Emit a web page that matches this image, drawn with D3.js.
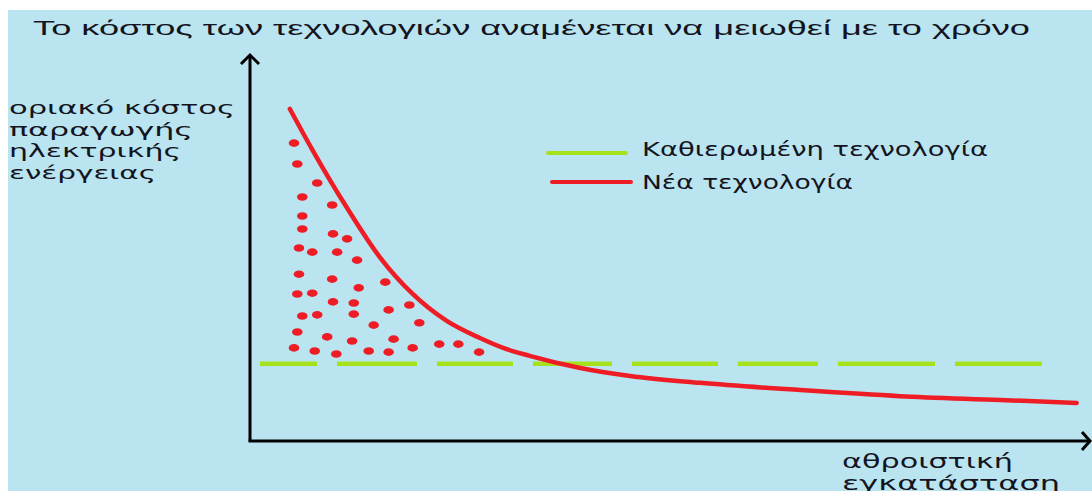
<!DOCTYPE html>
<html>
<head>
<meta charset="utf-8">
<script src="https://cdn.jsdelivr.net/npm/d3@7"></script>
<style>
  html, body { margin: 0; padding: 0; background: #ffffff; }
  svg { display: block; }
</style>
</head>
<body>
<svg id="chart" width="1092" height="491"></svg>
<script>
// ---------- data ----------
const titleText = "Το κόστος των τεχνολογιών αναμένεται να μειωθεί με το χρόνο";
const yLabelLines = ["οριακό κόστος", "παραγωγής", "ηλεκτρικής", "ενέργειας"];
const xLabelLines = ["αθροιστική", "εγκατάσταση"];
const legendLabels = ["Καθιερωμένη τεχνολογία", "Νέα τεχνολογία"];

// New technology: declining cost curve (x = cumulative installation, y = cost)
const newTechX = [4.8, 7.6, 11.7, 15.7, 19.6, 23.7, 27.7, 30.5, 33.7, 39.8, 45.8, 54.2, 66.3, 78.3, 90.4, 99.6];
const newTechY = [87.4, 76.3, 61.3, 48.2, 38.7, 31.6, 27.1, 24.5, 22.4, 19.2, 17.1, 15.3, 13.4, 11.8, 10.8, 10.0];

// Established technology: constant cost
const establishedX = [1.2, 95.4];
const establishedY = [20.3, 20.3];

// Extra cost area (red dots)
const dotX = [5.3, 5.7, 8.1, 6.3, 9.9, 6.3, 6.3, 10.0, 11.7, 5.9, 7.5, 10.5, 12.9, 5.9, 9.9, 13.1, 16.3,
              5.7, 7.5, 10.0, 12.5, 12.5, 6.3, 8.1, 16.7, 19.2, 14.9, 20.4, 5.7, 9.3, 12.3, 17.3,
              5.3, 7.8, 10.4, 14.3, 16.7, 19.6, 22.8, 25.1, 27.6];
const dotY = [78.4, 72.9, 67.9, 64.2, 62.1, 59.2, 55.8, 54.5, 53.2, 50.8, 49.7, 49.7, 47.6, 43.9, 42.6, 40.3, 41.8,
              38.7, 38.9, 36.6, 36.3, 33.4, 32.9, 33.2, 34.5, 35.8, 30.5, 31.1, 28.7, 27.4, 26.3, 26.8,
              24.5, 23.7, 22.9, 23.7, 23.4, 24.5, 25.5, 25.5, 23.4];

// ---------- drawing ----------
const svg = d3.select("#chart");
const W = 1092, H = 491;

const colors = { bg: "#b9e4f0", red: "#ee1d25", green: "#a6e21c", text: "#141420", axis: "#000000" };

svg.append("rect").attr("x", 8).attr("y", 10).attr("width", W - 8).attr("height", H - 10).attr("fill", colors.bg);

const x = d3.scaleLinear().domain([0, 100]).range([250, 1080]);
const y = d3.scaleLinear().domain([0, 100]).range([441, 61]);

// title
svg.append("text")
  .attr("x", 33).attr("y", 35)
  .attr("font-family", "Liberation Sans, Arial, sans-serif")
  .attr("font-size", 21)
  .attr("fill", colors.text)
  .attr("textLength", 997).attr("lengthAdjust", "spacingAndGlyphs")
  .text(titleText);

// y label
const yLabLens = [226, 184, 172, 147];
yLabelLines.forEach((t, i) => {
  svg.append("text")
    .attr("x", 9).attr("y", 114 + i * 21.5)
    .attr("font-family", "DejaVu Sans, Verdana, sans-serif")
    .attr("font-size", 18.5)
    .attr("fill", colors.text)
    .attr("textLength", yLabLens[i]).attr("lengthAdjust", "spacingAndGlyphs")
    .text(t);
});

// x label
const xLabLens = [171, 218];
xLabelLines.forEach((t, i) => {
  svg.append("text")
    .attr("x", 842).attr("y", 468 + i * 22)
    .attr("font-family", "DejaVu Sans, Verdana, sans-serif")
    .attr("font-size", 19.5)
    .attr("fill", colors.text)
    .attr("textLength", xLabLens[i]).attr("lengthAdjust", "spacingAndGlyphs")
    .text(t);
});

// established technology dashed line
const line = d3.line().x(d => x(d[0])).y(d => y(d[1]));
svg.append("path")
  .datum(d3.zip(establishedX, establishedY))
  .attr("d", line)
  .attr("fill", "none")
  .attr("stroke", colors.green)
  .attr("stroke-width", 4.5)
  .attr("stroke-dasharray", "57,20,80,20,76,20,79,20,86,20,80,20,97,20,87");

// dots
svg.append("g").selectAll("ellipse")
  .data(d3.zip(dotX, dotY))
  .join("ellipse")
  .attr("cx", d => x(d[0]))
  .attr("cy", d => y(d[1]))
  .attr("rx", 5.3)
  .attr("ry", 3.8)
  .attr("fill", colors.red);

// new technology curve
svg.append("path")
  .datum(d3.zip(newTechX, newTechY))
  .attr("d", line.curve(d3.curveMonotoneX))
  .attr("fill", "none")
  .attr("stroke", colors.red)
  .attr("stroke-width", 4.5)
  .attr("stroke-linecap", "round");

// axes
const x0 = x(0), y0 = y(0);
const axisG = svg.append("g").attr("stroke", colors.axis).attr("stroke-width", 3).attr("fill", "none");
axisG.append("path").attr("d", `M${x0},${y0} L${x0},55`);
axisG.append("path").attr("d", `M${x0 - 9},64 L${x0},55 L${x0 + 9},64`);
axisG.append("path").attr("d", `M${x0 - 1.5},${y0} L1089,${y0}`);
axisG.append("path").attr("d", `M1082,${y0 - 9} L1090,${y0} L1082,${y0 + 9}`);

// legend
const legendColors = [colors.green, colors.red];
const legendY = [153, 182];
const legendX1 = [548, 552], legendX2 = [626, 631];
const legendLens = [346, 211];
legendLabels.forEach((t, i) => {
  svg.append("line")
    .attr("x1", legendX1[i]).attr("x2", legendX2[i])
    .attr("y1", legendY[i]).attr("y2", legendY[i])
    .attr("stroke", legendColors[i]).attr("stroke-width", 4)
    .attr("stroke-linecap", "round");
  svg.append("text")
    .attr("x", 642).attr("y", legendY[i] + 3 + i * 4)
    .attr("font-family", "DejaVu Sans, Verdana, sans-serif")
    .attr("font-size", 20)
    .attr("fill", colors.text)
    .attr("textLength", legendLens[i]).attr("lengthAdjust", "spacingAndGlyphs")
    .text(t);
});
</script>
</body>
</html>
